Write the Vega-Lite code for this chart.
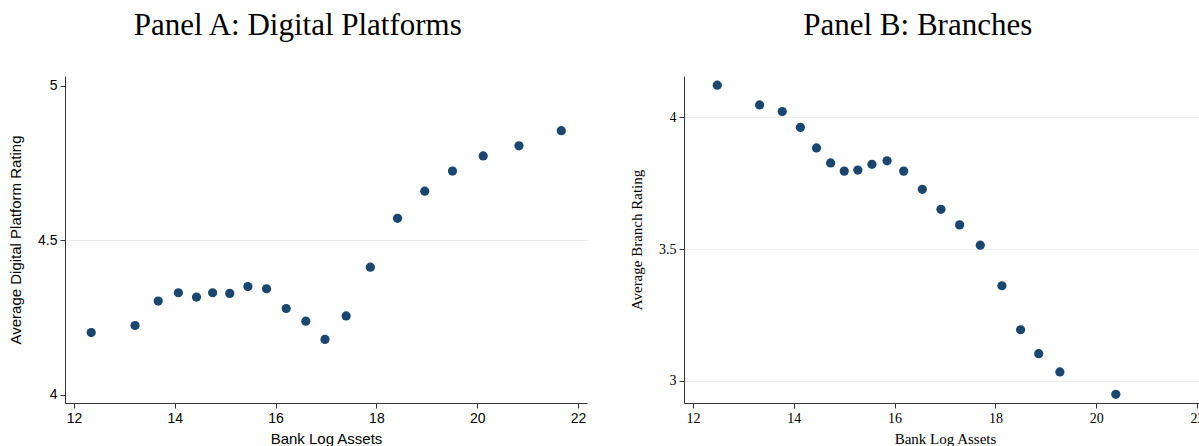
{
  "$schema": "https://vega.github.io/schema/vega-lite/v6.json",
  "autosize": {"type": "pad"},
  "padding": {"left": 8, "top": 10, "right": 0, "bottom": 0},
  "background": "white",
  "bounds": "flush",
  "spacing": 97,
  "config": {
    "view": {"stroke": null},
    "axis": {"domainColor": "#333333", "tickColor": "#333333", "labelColor": "#000000", "titleColor": "#000000", "tickSize": 5, "titleFontWeight": "normal"}
  },
  "datasets": {
    "digital": [
      {"log_assets": 12.34, "rating": 4.201},
      {"log_assets": 13.21, "rating": 4.224},
      {"log_assets": 13.67, "rating": 4.303},
      {"log_assets": 14.07, "rating": 4.330},
      {"log_assets": 14.43, "rating": 4.316},
      {"log_assets": 14.75, "rating": 4.330},
      {"log_assets": 15.09, "rating": 4.328},
      {"log_assets": 15.45, "rating": 4.350},
      {"log_assets": 15.82, "rating": 4.343},
      {"log_assets": 16.21, "rating": 4.279},
      {"log_assets": 16.60, "rating": 4.238},
      {"log_assets": 16.98, "rating": 4.179},
      {"log_assets": 17.40, "rating": 4.255},
      {"log_assets": 17.88, "rating": 4.413},
      {"log_assets": 18.42, "rating": 4.571},
      {"log_assets": 18.96, "rating": 4.659},
      {"log_assets": 19.51, "rating": 4.724},
      {"log_assets": 20.12, "rating": 4.773},
      {"log_assets": 20.83, "rating": 4.806},
      {"log_assets": 21.67, "rating": 4.855}
    ],
    "branch": [
      {"log_assets": 12.48, "rating": 4.122},
      {"log_assets": 13.32, "rating": 4.047},
      {"log_assets": 13.77, "rating": 4.022},
      {"log_assets": 14.13, "rating": 3.962},
      {"log_assets": 14.45, "rating": 3.884},
      {"log_assets": 14.73, "rating": 3.827},
      {"log_assets": 15.00, "rating": 3.796},
      {"log_assets": 15.27, "rating": 3.800},
      {"log_assets": 15.55, "rating": 3.822},
      {"log_assets": 15.85, "rating": 3.835},
      {"log_assets": 16.18, "rating": 3.796},
      {"log_assets": 16.55, "rating": 3.727},
      {"log_assets": 16.92, "rating": 3.651},
      {"log_assets": 17.29, "rating": 3.592},
      {"log_assets": 17.70, "rating": 3.515},
      {"log_assets": 18.13, "rating": 3.361},
      {"log_assets": 18.50, "rating": 3.194},
      {"log_assets": 18.86, "rating": 3.103},
      {"log_assets": 19.28, "rating": 3.034},
      {"log_assets": 20.39, "rating": 2.949}
    ]
  },
  "hconcat": [
    {
      "title": {"text": "Panel A: Digital Platforms", "font": "Liberation Serif", "fontSize": 31, "fontWeight": "normal", "color": "#000000", "anchor": "middle", "frame": "bounds", "offset": 34},
      "width": 522,
      "height": 327,
      "data": {"name": "digital"},
      "mark": {"type": "point", "filled": true, "size": 85, "color": "#1a476f", "opacity": 1},
      "encoding": {
        "x": {
          "field": "log_assets", "type": "quantitative",
          "scale": {"domain": [11.82, 22.18], "nice": false, "zero": false},
          "axis": {"values": [12, 14, 16, 18, 20, 22], "title": "Bank Log Assets", "grid": false,
                   "labelFont": "Liberation Sans", "labelFontSize": 14, "labelPadding": 3,
                   "titleFont": "Liberation Sans", "titleFontSize": 15, "titlePadding": 6}
        },
        "y": {
          "field": "rating", "type": "quantitative",
          "scale": {"domain": [3.973, 5.032], "nice": false, "zero": false},
          "axis": {"values": [4, 4.5, 5], "format": "~g", "title": "Average Digital Platform Rating",
                   "labelFont": "Liberation Sans", "labelFontSize": 14, "labelPadding": 3, "labelAngle": 0,
                   "titleFont": "Liberation Sans", "titleFontSize": 15, "titlePadding": 14,
                   "grid": true, "gridColor": {"condition": {"test": "datum.value == 4.5", "value": "#e8e8e8"}, "value": "transparent"}}
        }
      }
    },
    {
      "title": {"text": "Panel B: Branches", "font": "Liberation Serif", "fontSize": 31, "fontWeight": "normal", "color": "#000000", "anchor": "middle", "frame": "bounds", "offset": 34},
      "width": 522,
      "height": 327,
      "data": {"name": "branch"},
      "mark": {"type": "point", "filled": true, "size": 85, "color": "#1a476f", "opacity": 1},
      "encoding": {
        "x": {
          "field": "log_assets", "type": "quantitative",
          "scale": {"domain": [11.82, 22.18], "nice": false, "zero": false},
          "axis": {"values": [12, 14, 16, 18, 20, 22], "title": "Bank Log Assets", "grid": false,
                   "labelFont": "Liberation Serif", "labelFontSize": 14, "labelPadding": 3,
                   "titleFont": "Liberation Serif", "titleFontSize": 15, "titlePadding": 6}
        },
        "y": {
          "field": "rating", "type": "quantitative",
          "scale": {"domain": [2.916, 4.157], "nice": false, "zero": false},
          "axis": {"values": [3, 3.5, 4], "format": "~g", "title": "Average Branch Rating",
                   "labelFont": "Liberation Serif", "labelFontSize": 14, "labelPadding": 3, "labelAngle": 0,
                   "titleFont": "Liberation Serif", "titleFontSize": 15, "titlePadding": 14,
                   "grid": true, "gridColor": "#ececec"}
        }
      }
    }
  ]
}
